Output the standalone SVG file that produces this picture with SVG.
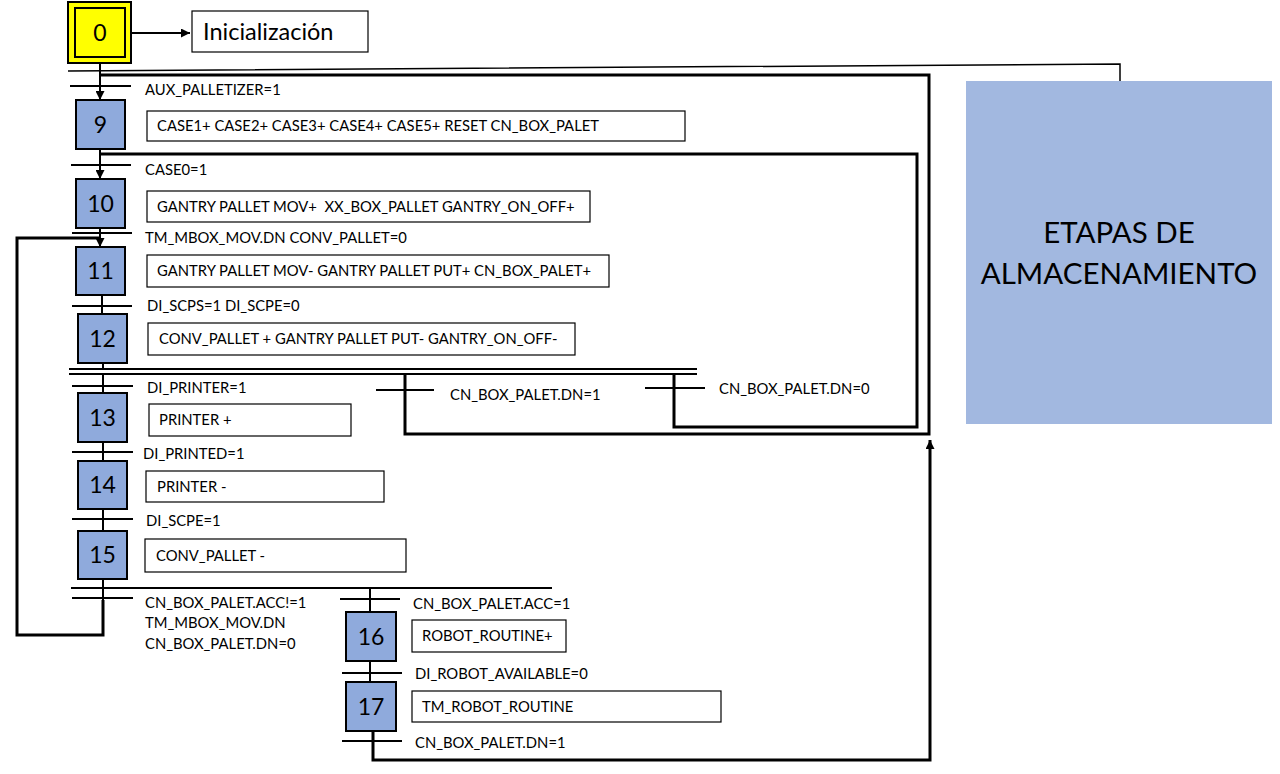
<svg xmlns="http://www.w3.org/2000/svg" width="1280" height="774" viewBox="0 0 1280 774">
<style>
.step{fill:#8FAADC;stroke:#000;stroke-width:2}
.num{font-family:Lato,"Open Sans",sans-serif;font-size:23px;fill:#000;text-anchor:middle}
.act{fill:#fff;stroke:#000;stroke-width:1.2}
.t{font-family:Lato,"Open Sans",sans-serif;font-size:14.8px;fill:#000}
.w{fill:none;stroke:#000;stroke-width:2}
.k{fill:none;stroke:#000;stroke-width:3}
.bar{stroke:#000;stroke-width:2}
</style>
<defs>
<marker id="ah" viewBox="0 0 10 10" refX="10" refY="5" markerWidth="9" markerHeight="9" markerUnits="userSpaceOnUse" orient="auto"><path d="M0,0 L10,5 L0,10 z" fill="#000"/></marker>
</defs>
<rect width="1280" height="774" fill="#fff"/>

<g id="connectors">
<line class="w" x1="131" y1="33" x2="190" y2="33" marker-end="url(#ah)"/>
<line class="w" x1="100" y1="63" x2="100" y2="100" marker-end="url(#ah)"/>
<polyline fill="none" stroke="#000" stroke-width="1.5" points="68,71 1120,64 1120,81"/>
<polyline class="k" points="405,374 405,434 929,434 929,75 100,75"/>
<polyline class="k" points="674,374 674,427 917,427 917,154 100,154"/>
<line class="w" x1="100" y1="149" x2="100" y2="179" marker-end="url(#ah)"/>
<line class="w" x1="100" y1="228" x2="100" y2="247" marker-end="url(#ah)"/>
<polyline class="k" points="103,600 103,635 17,635 17,238 100,238"/>
<line class="w" x1="102" y1="295" x2="102" y2="314"/>
<line class="w" x1="103" y1="363" x2="103" y2="369"/>
<line class="w" x1="69" y1="369" x2="697" y2="369"/>
<line class="w" x1="69" y1="374" x2="697" y2="374"/>
<line class="w" x1="103" y1="374" x2="103" y2="393"/>
<line class="w" x1="103" y1="442" x2="103" y2="461"/>
<line class="w" x1="103" y1="509" x2="103" y2="531"/>
<line class="w" x1="103" y1="579" x2="103" y2="602"/>
<line class="w" x1="71" y1="588" x2="552" y2="588"/>
<line class="w" x1="370" y1="588" x2="370" y2="612"/>
<line class="w" x1="370" y1="661" x2="370" y2="682"/>
<polyline class="k" points="373,731 373,760 930,760 930,440" marker-end="url(#ah)"/>
<line class="bar" x1="70" y1="86" x2="131" y2="86"/>
<line class="bar" x1="71" y1="165" x2="131" y2="165"/>
<line class="bar" x1="72" y1="233" x2="132" y2="233"/>
<line class="bar" x1="72" y1="306" x2="132" y2="306"/>
<line class="bar" x1="72" y1="386" x2="133" y2="386"/>
<line class="bar" x1="376" y1="390" x2="434" y2="390"/>
<line class="bar" x1="645" y1="388" x2="705" y2="388"/>
<line class="bar" x1="72" y1="452" x2="133" y2="452"/>
<line class="bar" x1="72" y1="519" x2="133" y2="519"/>
<line class="bar" x1="72" y1="598" x2="133" y2="598"/>
<line class="bar" x1="340" y1="599" x2="400" y2="599"/>
<line class="bar" x1="342" y1="673" x2="402" y2="673"/>
<line class="bar" x1="342" y1="741" x2="402" y2="741"/>
</g>

<g id="labels">
<text class="t" x="145" y="95">AUX_PALLETIZER=1</text>
<text class="t" x="145" y="175">CASE0=1</text>
<text class="t" x="145" y="243">TM_MBOX_MOV.DN CONV_PALLET=0</text>
<text class="t" x="147" y="311">DI_SCPS=1 DI_SCPE=0</text>
<text class="t" x="147" y="393">DI_PRINTER=1</text>
<text class="t" x="450" y="400">CN_BOX_PALET.DN=1</text>
<text class="t" x="719" y="394">CN_BOX_PALET.DN=0</text>
<text class="t" x="143" y="459">DI_PRINTED=1</text>
<text class="t" x="146" y="526">DI_SCPE=1</text>
<text class="t" x="145" y="608">CN_BOX_PALET.ACC!=1</text>
<text class="t" x="145" y="628">TM_MBOX_MOV.DN</text>
<text class="t" x="145" y="649">CN_BOX_PALET.DN=0</text>
<text class="t" x="413" y="609">CN_BOX_PALET.ACC=1</text>
<text class="t" x="415" y="679">DI_ROBOT_AVAILABLE=0</text>
<text class="t" x="415" y="748">CN_BOX_PALET.DN=1</text>
</g>

<g id="step0">
<rect x="68" y="2" width="63" height="61" fill="#FFFF00" stroke="#000" stroke-width="2"/>
<rect x="75" y="8" width="50" height="49" fill="#FFFF00" stroke="#000" stroke-width="2"/>
<text class="num" x="100" y="41">0</text>
</g>
<g id="init">
<rect x="192" y="11" width="176" height="41" class="act"/>
<text x="203" y="40" style="font-family:Lato,'Open Sans',sans-serif;font-size:23.5px">Inicialización</text>
</g>

<g id="step9">
<rect class="step" x="76" y="100" width="49" height="49"/>
<text class="num" x="100.5" y="133">9</text>
<rect class="act" x="147" y="111" width="538" height="30"/>
<text class="t" x="157" y="131">CASE1+ CASE2+ CASE3+ CASE4+ CASE5+ RESET CN_BOX_PALET</text>
</g>
<g id="step10">
<rect class="step" x="76" y="179" width="49" height="49"/>
<text class="num" x="100.5" y="212">10</text>
<rect class="act" x="147" y="191" width="443" height="31"/>
<text class="t" x="157" y="212" xml:space="preserve">GANTRY PALLET MOV+  XX_BOX_PALLET GANTRY_ON_OFF+</text>
</g>
<g id="step11">
<rect class="step" x="76" y="247" width="49" height="48"/>
<text class="num" x="100.5" y="279">11</text>
<rect class="act" x="147" y="255" width="462" height="32"/>
<text class="t" x="157" y="276">GANTRY PALLET MOV- GANTRY PALLET PUT+ CN_BOX_PALET+</text>
</g>
<g id="step12">
<rect class="step" x="78" y="314" width="49" height="49"/>
<text class="num" x="102.5" y="347">12</text>
<rect class="act" x="148" y="323" width="427" height="32"/>
<text class="t" x="159" y="344">CONV_PALLET + GANTRY PALLET PUT- GANTRY_ON_OFF-</text>
</g>
<g id="step13">
<rect class="step" x="78" y="393" width="49" height="49"/>
<text class="num" x="102.5" y="426">13</text>
<rect class="act" x="149" y="404" width="202" height="32"/>
<text class="t" x="159" y="425">PRINTER +</text>
</g>
<g id="step14">
<rect class="step" x="78" y="461" width="49" height="48"/>
<text class="num" x="102.5" y="493">14</text>
<rect class="act" x="146" y="471" width="238" height="31"/>
<text class="t" x="157" y="492">PRINTER -</text>
</g>
<g id="step15">
<rect class="step" x="78" y="531" width="49" height="48"/>
<text class="num" x="102.5" y="563">15</text>
<rect class="act" x="145" y="539" width="261" height="33"/>
<text class="t" x="156" y="561">CONV_PALLET -</text>
</g>
<g id="step16">
<rect class="step" x="346" y="612" width="50" height="49"/>
<text class="num" x="371" y="645">16</text>
<rect class="act" x="412" y="620" width="154" height="32"/>
<text class="t" x="422" y="641">ROBOT_ROUTINE+</text>
</g>
<g id="step17">
<rect class="step" x="346" y="682" width="50" height="49"/>
<text class="num" x="371" y="715">17</text>
<rect class="act" x="412" y="691" width="309" height="31"/>
<text class="t" x="422" y="712">TM_ROBOT_ROUTINE</text>
</g>

<g id="etapas">
<rect x="966" y="81" width="306" height="343" fill="#A2B8E0"/>
<text x="1119" y="243" text-anchor="middle" style="font-family:Lato,'Open Sans',sans-serif;font-size:29.5px">ETAPAS DE</text>
<text x="1119" y="284" text-anchor="middle" style="font-family:Lato,'Open Sans',sans-serif;font-size:29.5px">ALMACENAMIENTO</text>
</g>
</svg>
